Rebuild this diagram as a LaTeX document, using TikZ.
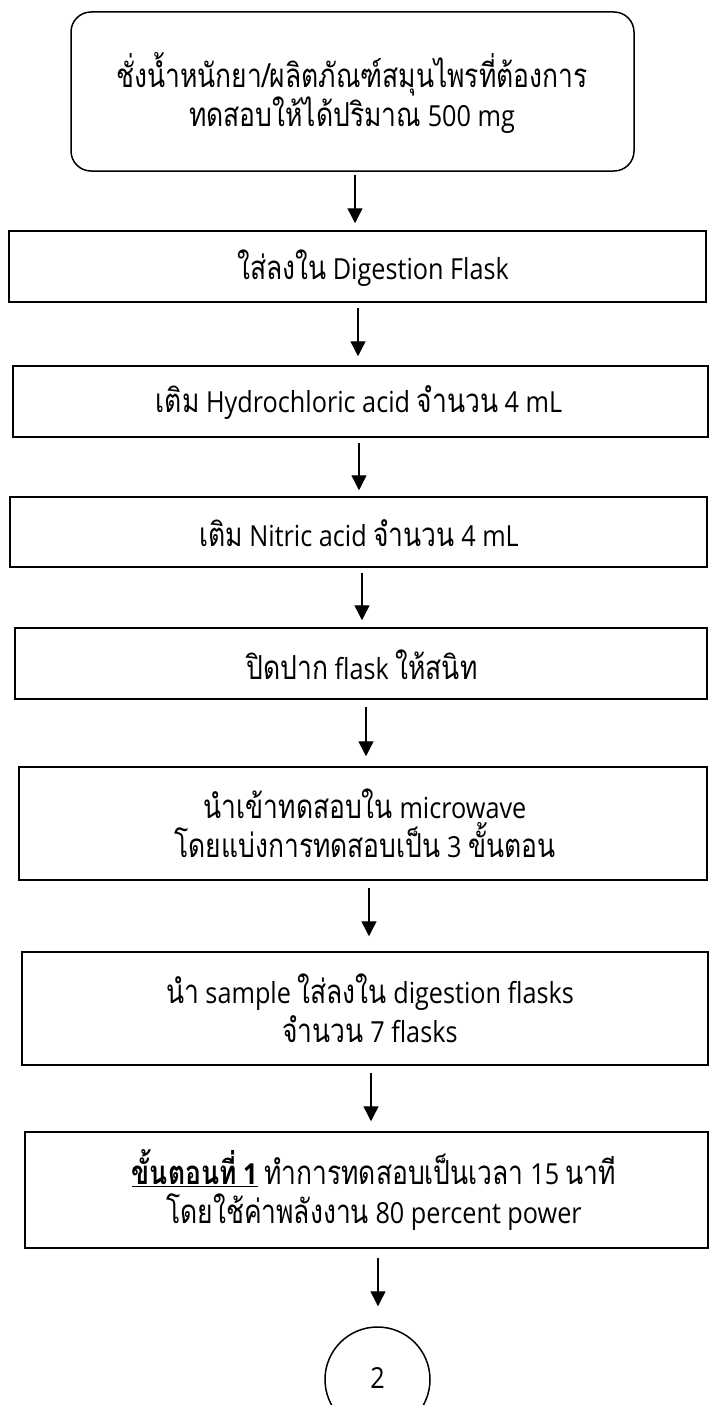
\documentclass[tikz,border=0pt]{standalone}
\usepackage{fontspec}
\setmainfont{Open Sans}[FakeStretch=0.87]
\newfontfamily\thaifont{Loma}[Script=Thai,Scale=1.14,FakeStretch=0.8]
\newcommand{\tha}[1]{{\thaifont #1}}
\usetikzlibrary{arrows.meta,calc}

\begin{document}
\begin{tikzpicture}[x=1pt,y=-1pt,
  stepbox/.style={draw, line width=1.5pt, rectangle, inner sep=0pt},
  startbox/.style={draw, line width=1.5pt, rectangle, rounded corners=20pt, inner sep=0pt},
  connector/.style={draw, line width=1.5pt, circle, inner sep=0pt, minimum size=105pt},
  txt/.style={inner sep=0pt, align=center, font=\fontsize{29}{39}\selectfont},
  arr/.style={line width=1.4pt, -{Triangle[length=15pt,width=15pt]}}]

\useasboundingbox (0,0) rectangle (710,1405);

% process boxes
\node[startbox, minimum width=563pt, minimum height=159pt] (b1) at (352.5,91.5) {};
\node[stepbox, minimum width=697pt, minimum height=71pt] (b2) at (357.5,266.5) {};
\node[stepbox, minimum width=695pt, minimum height=71pt] (b3) at (360.5,401.5) {};
\node[stepbox, minimum width=697pt, minimum height=70pt] (b4) at (358.5,532) {};
\node[stepbox, minimum width=692pt, minimum height=71pt] (b5) at (361,663.5) {};
\node[stepbox, minimum width=688pt, minimum height=113pt] (b6) at (363,823.5) {};
\node[stepbox, minimum width=686pt, minimum height=113pt] (b7) at (365,1008.5) {};
\node[stepbox, minimum width=683pt, minimum height=116pt] (b8) at (366.5,1190) {};
\node[connector] (c2) at (377.5,1379.5) {};

% box texts
\node[txt] (t1) at (352,93) {\tha{ชั่งน้ำหนักยา/ผลิตภัณฑ์สมุนไพรที่ต้องการ}\\\tha{ทดสอบให้ได้ปริมาณ} 500 mg};
\node[txt] (t2) at (373,268) {\tha{ใส่ลงใน} Digestion Flask};
\node[txt] (t3) at (359,403) {\tha{เติม} Hydrochloric acid \tha{จำนวน} 4 mL};
\node[txt] (t4) at (359,533) {\tha{เติม} Nitric acid \tha{จำนวน} 4 mL};
\node[txt] (t5) at (362,665) {\tha{ปิดปาก} flask \tha{ให้สนิท}};
\node[txt] (t6) at (365,823) {\tha{นำเข้าทดสอบใน} microwave\\\tha{โดยแบ่งการทดสอบเป็น} 3 \tha{ขั้นตอน}};
\node[txt] (t7) at (370,1008) {\tha{นำ} sample \tha{ใส่ลงใน} digestion flasks\\\tha{จำนวน} 7 flasks};
\node[txt] (t8) at (374,1190) {\underline{\textbf{\tha{ขั้นตอนที่} 1}} \tha{ทำการทดสอบเป็นเวลา} 15 \tha{นาที}\\\tha{โดยใช้ค่าพลังงาน} 80 percent power};
\node[txt] (t9) at (377.5,1378) {2};

% connectors
\draw[arr] ($(b1.south)+(2.5,3)$) -- ($(b2.north)+(-2.5,-7)$);
\draw[arr] ($(b2.south)+(0.5,5)$) -- ($(b3.north)+(-2.5,-9)$);
\draw[arr] ($(b3.south)+(-1.5,5)$) -- ($(b4.north)+(0.5,-6)$);
\draw[arr] ($(b4.south)+(3.5,5)$) -- ($(b5.north)+(1,-7)$);
\draw[arr] ($(b5.south)+(5,7)$) -- ($(b6.north)+(3,-10)$);
\draw[arr] ($(b6.south)+(6,7)$) -- ($(b7.north)+(4,-15)$);
\draw[arr] ($(b7.south)+(6,7)$) -- ($(b8.north)+(4.5,-10)$);
\draw[arr] ($(b8.south)+(11.5,9)$) -- ($(c2.north)+(0.5,-20)$);
\end{tikzpicture}
\end{document}
